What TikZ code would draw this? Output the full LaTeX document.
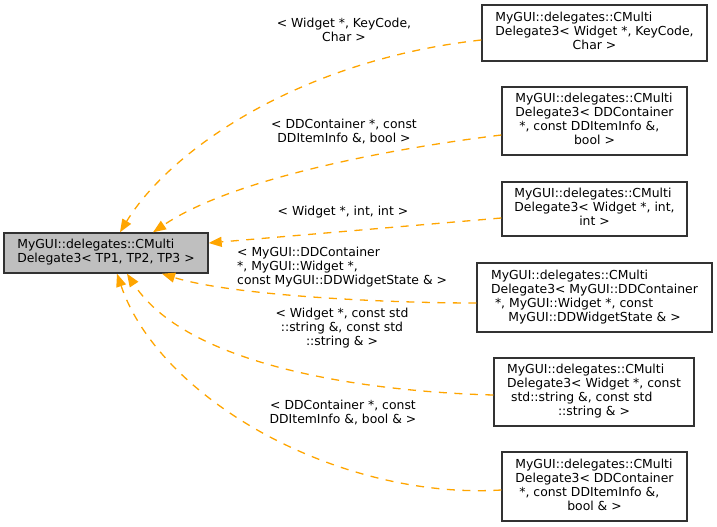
\documentclass[tikz,border=0pt]{standalone}
\usepackage{fontspec}
\setmainfont{DejaVu Sans}
\usetikzlibrary{arrows.meta}
\definecolor{edgeorange}{RGB}{255,165,0}
\definecolor{basegray}{RGB}{191,191,191}
\definecolor{borderc}{RGB}{50,50,50}
\newcommand\lastln[1]{\multicolumn{1}{@{}c@{}}{#1}}
\begin{document}
\begin{tikzpicture}[x=1pt,y=-1pt,
  box/.style={draw=borderc, line width=1.4pt, inner sep=0pt, anchor=center,
    font=\fontsize{12.4}{14}\selectfont},
  basebox/.style={box, fill=basegray},
  lbl/.style={inner sep=0pt, font=\fontsize{12.4}{14}\selectfont},
  edge/.style={draw=edgeorange, line width=1.3pt, dash pattern=on 8pt off 7.5pt,
    -{Triangle[length=13pt,width=10pt,fill=edgeorange]}}]
\useasboundingbox (0,0) rectangle (717,527);

% nodes
\node[basebox, minimum width=204pt, minimum height=40pt] (main) at (106,253)
  {\begin{tabular}{@{}l@{}}MyGUI::delegates::CMulti\\\lastln{Delegate3< TP1, TP2, TP3 >}\end{tabular}};

\node[box, minimum width=225pt, minimum height=56pt] (b1) at (594.5,33)
  {\begin{tabular}{@{}l@{}}MyGUI::delegates::CMulti\\Delegate3< Widget *, KeyCode,\\\lastln{Char >}\end{tabular}};

\node[box, minimum width=185pt, minimum height=68pt] (b2) at (594.5,121)
  {\begin{tabular}{@{}l@{}}MyGUI::delegates::CMulti\\Delegate3< DDContainer\\\ *, const DDItemInfo \&,\\\lastln{bool >}\end{tabular}};

\node[box, minimum width=185pt, minimum height=54pt] (b3) at (594.5,209)
  {\begin{tabular}{@{}l@{}}MyGUI::delegates::CMulti\\Delegate3< Widget *, int,\\\lastln{int >}\end{tabular}};

\node[box, minimum width=235pt, minimum height=69pt] (b4) at (594.5,297.5)
  {\begin{tabular}{@{}l@{}}MyGUI::delegates::CMulti\\Delegate3< MyGUI::DDContainer\\\ *, MyGUI::Widget *, const\\\lastln{MyGUI::DDWidgetState \& >}\end{tabular}};

\node[box, minimum width=200pt, minimum height=68pt] (b5) at (594,392)
  {\begin{tabular}{@{}l@{}}MyGUI::delegates::CMulti\\Delegate3< Widget *, const\\\ std::string \&, const std\\\lastln{::string \& >}\end{tabular}};

\node[box, minimum width=185pt, minimum height=69pt] (b6) at (594.5,486.5)
  {\begin{tabular}{@{}l@{}}MyGUI::delegates::CMulti\\Delegate3< DDContainer\\\ *, const DDItemInfo \&,\\\lastln{bool \& >}\end{tabular}};

% edges
\draw[edge] ([yshift=-7pt]b1.west) .. controls (300,60) and (170,150) .. ([xshift=14pt]main.north);
\draw[edge] ([yshift=-14pt]b2.west) .. controls (380,150) and (230,180) .. ([xshift=47pt]main.north);
\draw[edge] ([yshift=-9pt]b3.west) -- ([yshift=10pt]main.east);
\draw[edge] ([yshift=-5.5pt]b4.west) .. controls (380,303) and (230,295) .. ([xshift=56pt]main.south);
\draw[edge] ([yshift=-3pt]b5.west) .. controls (380,392) and (190,370) .. ([xshift=21pt]main.south);
\draw[edge] ([yshift=-3.5pt]b6.west) .. controls (340,500) and (160,400) .. ([xshift=11pt]main.south);

% labels
\node[lbl, align=center] (l1) at (344,29.5) {< Widget *, KeyCode,\\Char >};
\node[lbl, align=center] (l2) at (344,132) {< DDContainer *, const\\DDItemInfo \&, bool >};
\node[lbl, align=center] (l3) at (343,212) {< Widget *, int, int >};
\node[lbl, align=left, anchor=west] (l4) at (237,267.5) {< MyGUI::DDContainer\\*, MyGUI::Widget *,\\const MyGUI::DDWidgetState \& >};
\node[lbl, align=center] (l5) at (342,328.5) {< Widget *, const std\\::string \&, const std\\::string \& >};
\node[lbl, align=center] (l6) at (343,412.5) {< DDContainer *, const\\DDItemInfo \&, bool \& >};
\end{tikzpicture}
\end{document}
